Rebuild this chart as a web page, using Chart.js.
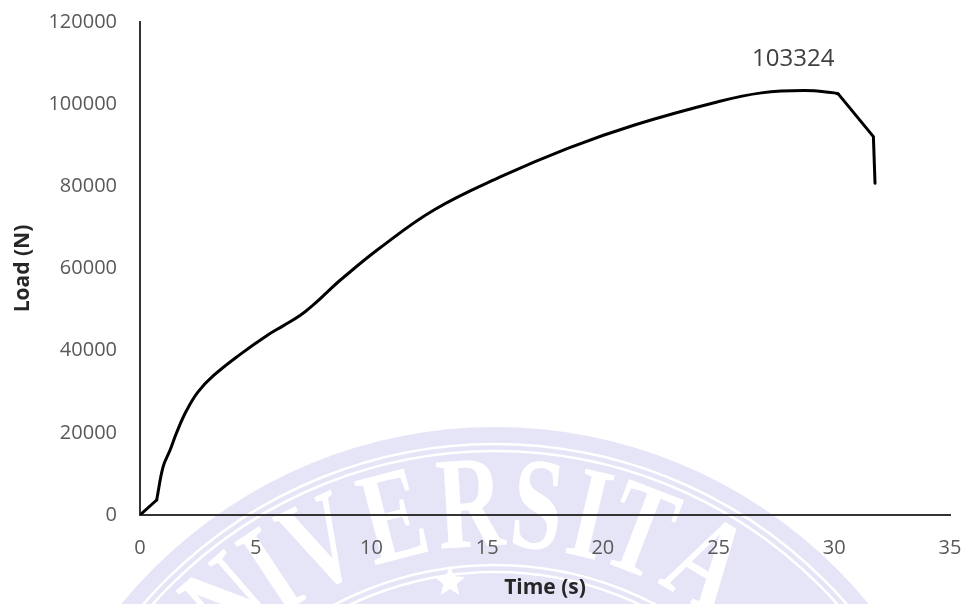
<!DOCTYPE html>
<html>
<head>
<meta charset="utf-8">
<script src="https://cdn.jsdelivr.net/npm/chart.js@4.4.0/dist/chart.umd.min.js"></script>
<style>
  html, body { margin: 0; padding: 0; background: #fff; }
  #wrap { width: 967px; height: 604px; position: relative; }
</style>
</head>
<body>
<div id="wrap"><canvas id="loadChart"></canvas></div>
<script>
// values
const timeS = [0, 0.72, 1.0, 1.3, 1.6, 2.0, 2.5, 3.17, 4.33, 5.49, 6.2, 6.93, 7.5, 8.1, 8.66, 10.39, 12.7, 15.59, 18.48, 21.37, 24.98, 26.85, 28.7, 30.0, 30.17, 31.69, 31.76];
const loadN = [0, 3650, 11760, 15820, 20300, 25300, 29900, 33900, 39100, 43700, 46100, 48600, 51200, 54300, 57200, 65100, 74250, 82350, 89260, 94940, 100600, 102750, 103324, 102750, 102500, 92090, 80740];
const xTicks = [0, 5, 10, 15, 20, 25, 30, 35];
const yTicks = [0, 20000, 40000, 60000, 80000, 100000, 120000];

// the curve is smooth between the toe and the break, straight outside
const smoothFrom = 1;   // index of t = 0.72
const smoothTo = 24;    // index of t = 30.17

const points = timeS.map((t, i) => ({ x: t, y: loadN[i] }));

// faint university seal behind the plot
const sealLetters = ['U', 'N', 'I', 'V', 'E', 'R', 'S', 'I', 'T', 'A'];
const sealAngles = [-52, -41, -33.5, -25.5, -14.5, -3.5, 6, 13.5, 21, 31.5];

const watermark = {
  id: 'watermark',
  beforeDraw(chart) {
    const c = chart.ctx;
    const cx = 495, cy = 910;
    c.save();
    c.fillStyle = 'rgb(229,229,247)';
    c.beginPath();
    c.arc(cx, cy, 483, 0, Math.PI * 2);
    c.fill();
    c.strokeStyle = '#fff';
    c.lineWidth = 2.5;
    [466, 459, 345, 338].forEach(r => {
      c.beginPath();
      c.arc(cx, cy, r, 0, Math.PI * 2);
      c.stroke();
    });
    c.fillStyle = '#fff';
    c.font = 'bold 132px "Liberation Serif"';
    c.textAlign = 'center';
    c.textBaseline = 'middle';
    sealLetters.forEach((ch, i) => {
      c.save();
      c.translate(cx, cy);
      c.rotate(sealAngles[i] * Math.PI / 180);
      c.translate(0, -404);
      c.scale(0.7, 1);
      c.fillText(ch, 0, 6);
      c.restore();
    });
    // star
    c.beginPath();
    const sx = 450, sy = 582, ro = 16, ri = 7;
    for (let k = 0; k < 10; k++) {
      const a = -Math.PI / 2 + k * Math.PI / 5;
      const r = k % 2 === 0 ? ro : ri;
      c.lineTo(sx + r * Math.cos(a), sy + r * Math.sin(a));
    }
    c.closePath();
    c.fill();
    c.restore();
  }
};

// label above the maximum load
const peakLabel = {
  id: 'peakLabel',
  afterDatasetsDraw(chart) {
    const max = Math.max(...loadN);
    const i = loadN.indexOf(max) - smoothFrom;
    const el = chart.getDatasetMeta(1).data[i];
    const c = chart.ctx;
    c.save();
    c.font = '24px "Open Sans"';
    c.fillStyle = '#404040';
    c.textAlign = 'center';
    c.textBaseline = 'middle';
    c.fillText(String(max), el.x - 11, el.y - 31);
    c.restore();
  }
};

const lineStyle = {
  borderColor: '#000',
  borderWidth: 3,
  pointRadius: 0,
  borderCapStyle: 'round',
  borderJoinStyle: 'round',
  fill: false
};

new Chart(document.getElementById('loadChart'), {
  type: 'line',
  data: {
    datasets: [
      { ...lineStyle, data: points.slice(0, smoothFrom + 1), tension: 0 },
      { ...lineStyle, data: points.slice(smoothFrom, smoothTo + 1), tension: 0.4 },
      { ...lineStyle, data: points.slice(smoothTo), tension: 0 }
    ]
  },
  options: {
    responsive: true,
    maintainAspectRatio: false,
    animation: false,
    layout: { padding: { left: 0, right: 17, top: 22, bottom: 0 } },
    plugins: { legend: { display: false }, tooltip: { enabled: false } },
    scales: {
      x: {
        type: 'linear',
        min: xTicks[0],
        max: xTicks[xTicks.length - 1],
        afterBuildTicks: s => { s.ticks = xTicks.map(v => ({ value: v })); },
        afterFit: s => { s.height = 89; },
        grid: { display: false, drawTicks: true, tickLength: 20 },
        border: { display: true, color: '#333', width: 2 },
        ticks: {
          padding: 1,
          color: '#595959',
          font: { family: 'Open Sans', size: 20 },
          maxRotation: 0,
          callback: v => String(v)
        },
        title: {
          display: true,
          text: 'Time (s)',
          color: '#262626',
          font: { family: 'Open Sans', size: 21, weight: 'bold' },
          padding: { top: 0, bottom: 3 }
        }
      },
      y: {
        min: yTicks[0],
        max: yTicks[yTicks.length - 1],
        afterBuildTicks: s => { s.ticks = yTicks.map(v => ({ value: v })); },
        afterFit: s => { s.width = 140; },
        grid: { display: false, drawTicks: true, tickLength: 20 },
        border: { display: true, color: '#333', width: 2 },
        ticks: {
          padding: 3,
          color: '#595959',
          font: { family: 'Open Sans', size: 20 },
          callback: v => String(v)
        },
        title: {
          display: true,
          text: 'Load (N)',
          color: '#262626',
          font: { family: 'Open Sans', size: 21, weight: 'bold' },
          padding: { top: 10, bottom: 0 }
        }
      }
    }
  },
  plugins: [watermark, peakLabel]
});
</script>
</body>
</html>
